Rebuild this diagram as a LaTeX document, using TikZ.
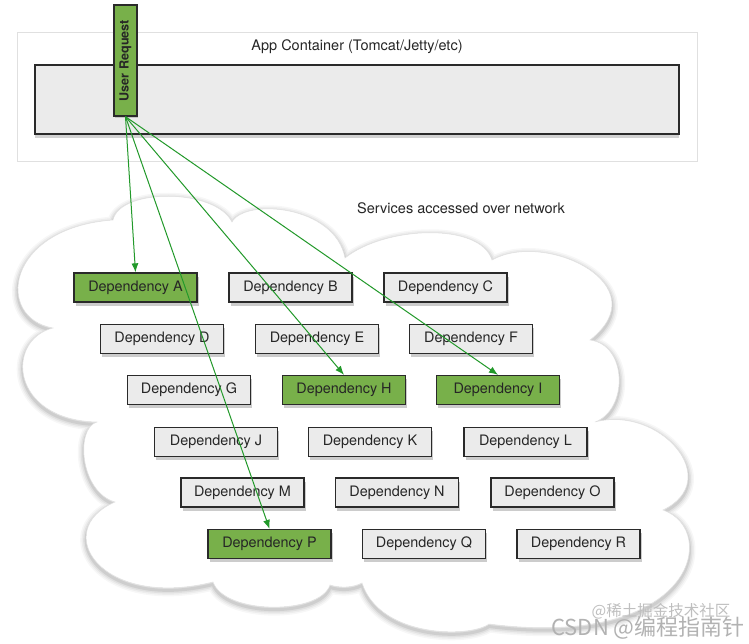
\documentclass[tikz,border=0pt]{standalone}
\usepackage{fontspec}
\usepackage{graphicx}
\setmainfont{TeX Gyre Heros}
\newfontfamily\cjk{Noto Sans CJK SC}
\usetikzlibrary{arrows.meta,shadows}
\definecolor{depgreen}{HTML}{78B04A}
\definecolor{depgray}{HTML}{EBEBEB}
\definecolor{edgec}{HTML}{2A2A2A}
\definecolor{arrowgreen}{HTML}{22992A}
\begin{document}
\begin{tikzpicture}[x=1pt,y=-1pt,
  dep/.style={draw=edgec, line width=1.3pt, fill=depgray, minimum width=123pt, minimum height=29pt,
    inner sep=0pt, font=\fontsize{14.4}{16}\selectfont, text=black!85,
    drop shadow={shadow xshift=1.5pt, shadow yshift=-3.5pt, opacity=.4}},
  hot/.style={dep, fill=depgreen},
  req/.style={-{Latex[length=9pt,width=7pt]}, draw=arrowgreen, line width=1pt},
  lbl/.style={font=\fontsize{14.5}{16}\selectfont, text=black!85, inner sep=0pt},
  cloudshape/.style={insert path={(53,328)
    .. controls (-5,318) and (5,228) .. (113,220)
    .. controls (120,188) and (215,188) .. (232,222)
    .. controls (245,198) and (335,205) .. (345,258)
    .. controls (385,226) and (480,222) .. (492,260)
    .. controls (545,230) and (660,285) .. (590,340)
    .. controls (628,345) and (628,410) .. (595,422)
    .. controls (660,405) and (725,480) .. (663,510)
    .. controls (720,530) and (695,650) .. (489,624)
    .. controls (470,638) and (380,638) .. (362,583)
    .. controls (352,588) and (340,588) .. (330,585)
    .. controls (320,615) and (225,615) .. (213,582)
    .. controls (100,610) and (50,530) .. (115,502)
    .. controls (80,492) and (75,428) .. (97,422)
    .. controls (10,420) and (5,340) .. (53,328) -- cycle}}
]
\useasboundingbox (0,0) rectangle (749,644);
\fill[white] (0,0) rectangle (749,644);

% app container
\draw[draw=black!12, line width=1pt] (17,33) rectangle (697,162);
\node[draw=edgec, line width=1.5pt, fill=depgray, minimum width=644pt, minimum height=69pt, inner sep=0pt,
  drop shadow={shadow xshift=0pt, shadow yshift=-4pt, opacity=.35}] (app) at (357,99.5) {};
\node[lbl] (apptitle) at (357,47) {App Container (Tomcat/Jetty/etc)};
\node[draw=edgec, line width=1.3pt, fill=depgreen, minimum width=23pt, minimum height=111pt, inner sep=0pt,
  drop shadow={shadow xshift=1pt, shadow yshift=-2pt, opacity=.35}] (ur) at (125.5,60.5)
  {\rotatebox{90}{\fontsize{12.6}{14}\selectfont\bfseries\color{black!85}User Request}};

% cloud
\foreach \w/\o in {12/0.03, 9/0.04, 6/0.05, 3/0.08}
  \draw[black, opacity=\o, line width=\w pt, yshift=-2.5pt, line join=round, cloudshape];
\fill[white, cloudshape];
\draw[black!12, line width=0.5pt, cloudshape];

\node[lbl] (services) at (461,208) {Services accessed over network};

% dependencies
\node[hot] (A) at (135.5,287.5) {Dependency A};
\node[dep] (B) at (290.5,287.5) {Dependency B};
\node[dep] (C) at (445.5,287.5) {Dependency C};
\node[dep] (D) at (162,339) {Dependency D};
\node[dep] (E) at (317,339) {Dependency E};
\node[dep] (F) at (471,339) {Dependency F};
\node[dep] (G) at (189,390) {Dependency G};
\node[hot] (H) at (344,390) {Dependency H};
\node[hot] (I) at (498,390) {Dependency I};
\node[dep] (J) at (216,442) {Dependency J};
\node[dep] (K) at (370,442) {Dependency K};
\node[dep] (L) at (525.5,442) {Dependency L};
\node[dep] (M) at (242.5,492.5) {Dependency M};
\node[dep] (N) at (397,492.5) {Dependency N};
\node[dep] (O) at (552.5,492.5) {Dependency O};
\node[hot] (P) at (269.5,544) {Dependency P};
\node[dep] (Q) at (424,544) {Dependency Q};
\node[dep] (R) at (578.5,544) {Dependency R};

% requests
\draw[req] (ur.south) -- (A.north);
\draw[req] (ur.south) -- (H.north);
\draw[req] (ur.south) -- (I.north);
\draw[req] (ur.south) -- (P.north);

% watermark
\node[font=\cjk\fontsize{15.5}{17}\selectfont, text=black!25, inner sep=0pt] (wm2) at (661,611) {@稀土掘金技术社区};
\node[font=\cjk\fontsize{22}{24}\selectfont, text=black!30, inner sep=0pt] (wm1) at (648,628) {CSDN @编程指南针};
\end{tikzpicture}
\end{document}
